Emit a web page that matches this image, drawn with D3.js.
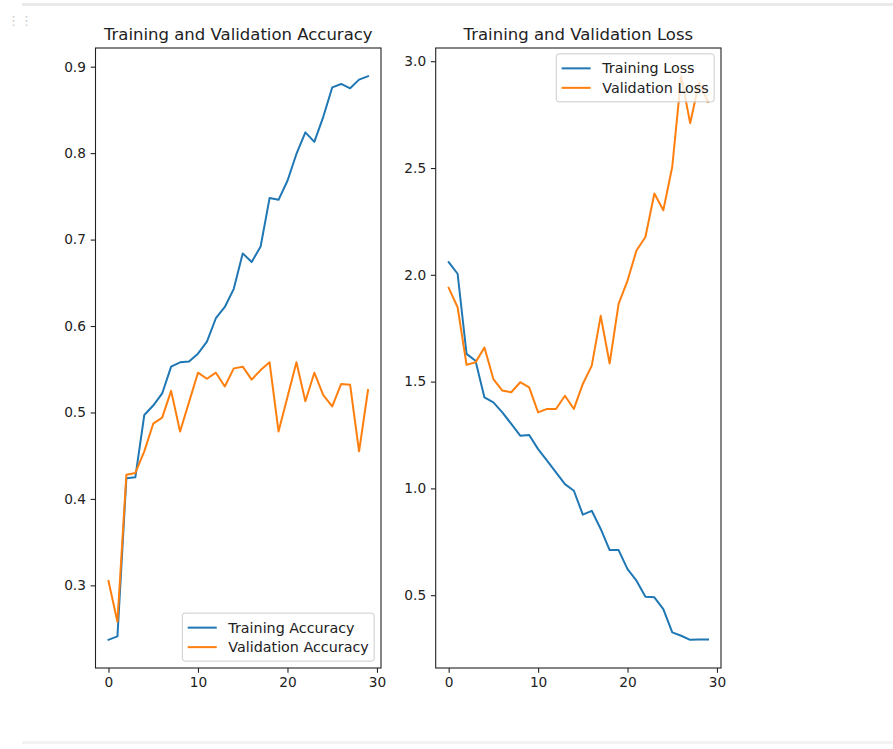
<!DOCTYPE html>
<html>
<head>
<meta charset="utf-8">
<script src="https://cdn.jsdelivr.net/npm/d3@7"></script>
<style>
  html, body { margin: 0; padding: 0; background: #fff; }
  svg { display: block; }
  text { font-family: "DejaVu Sans", sans-serif; }
</style>
</head>
<body>
<svg id="chart" width="893" height="749"></svg>
<script>
// Training history, one value per epoch
const epochs = d3.range(30);
const trainAcc = [0.237,0.241,0.424,0.425,0.497,0.508,0.522,0.553,0.558,0.559,
                  0.568,0.582,0.609,0.622,0.643,0.684,0.674,0.692,0.748,0.746,
                  0.768,0.799,0.824,0.813,0.842,0.876,0.880,0.875,0.885,0.889];
const valAcc   = [0.305,0.258,0.428,0.430,0.455,0.487,0.494,0.525,0.478,0.512,
                  0.546,0.539,0.546,0.530,0.551,0.553,0.538,0.549,0.558,0.478,
                  0.518,0.558,0.513,0.546,0.520,0.507,0.533,0.532,0.455,0.526];
const trainLoss = [2.059,2.005,1.630,1.598,1.426,1.403,1.356,1.302,1.247,1.250,
                   1.184,1.130,1.075,1.020,0.989,0.877,0.895,0.810,0.711,0.711,
                   0.622,0.568,0.493,0.490,0.435,0.326,0.310,0.291,0.293,0.293];
const valLoss   = [1.939,1.848,1.579,1.590,1.660,1.512,1.458,1.450,1.497,1.473,
                   1.356,1.372,1.372,1.434,1.372,1.489,1.575,1.808,1.585,1.864,
                   1.973,2.114,2.177,2.381,2.302,2.506,2.930,2.710,2.900,2.810];

const xTicks = [0, 10, 20, 30];
const accTicks = [0.3, 0.4, 0.5, 0.6, 0.7, 0.8, 0.9];
const lossTicks = [0.5, 1.0, 1.5, 2.0, 2.5, 3.0];

const BLUE = "#1f77b4", ORANGE = "#ff7f0e";
const FS = 13.7;          // tick font size
const LFS = 14.3;         // legend font size
const svg = d3.select("#chart");

// notebook cell frame
svg.append("rect").attr("x", 22).attr("y", 3).attr("width", 871).attr("height", 3)
  .attr("fill", "#eaeaea");
svg.append("rect").attr("x", 22).attr("y", 741).attr("width", 871).attr("height", 3)
  .attr("fill", "#f3f3f3");
svg.append("text").attr("x", 7).attr("y", 25).attr("font-size", 13)
  .attr("fill", "#c8c8c8").text("\u22ee\u22ee");

// padded extent like matplotlib's default 5% margins
function padded(arrs) {
  const all = arrs.flat();
  const [lo, hi] = d3.extent(all);
  const r = hi - lo;
  return [lo - 0.05 * r, hi + 0.05 * r];
}

function panel(opts) {
  const { left, right, top, bottom, series, yTicks, yFmt, title, legend } = opts;
  const g = svg.append("g");
  const x = d3.scaleLinear().domain([-1.45, 30.45]).range([left, right]);
  const y = d3.scaleLinear().domain(padded(series.map(s => s.values))).range([bottom, top]);

  const clipId = "clip" + Math.round(left);
  svg.append("clipPath").attr("id", clipId)
    .append("rect").attr("x", left).attr("y", top)
    .attr("width", right - left).attr("height", bottom - top);

  const line = d3.line().x((d, i) => x(epochs[i])).y(d => y(d));
  const plot = g.append("g").attr("clip-path", `url(#${clipId})`);
  series.forEach(s => {
    plot.append("path").datum(s.values)
      .attr("d", line).attr("fill", "none")
      .attr("stroke", s.color).attr("stroke-width", 2)
      .attr("stroke-linejoin", "round").attr("stroke-linecap", "square");
  });

  // axes
  const xAxis = d3.axisBottom(x).tickValues(xTicks).tickSize(4.8).tickPadding(4.8)
    .tickFormat(d3.format("d"));
  const yAxis = d3.axisLeft(y).tickValues(yTicks).tickSize(4.8).tickPadding(4.8)
    .tickFormat(yFmt);
  const gx = g.append("g").attr("transform", `translate(0,${bottom})`).call(xAxis);
  const gy = g.append("g").attr("transform", `translate(${left},0)`).call(yAxis);
  [gx, gy].forEach(ax => {
    ax.select(".domain").remove();
    ax.selectAll(".tick line").attr("stroke", "#222").attr("stroke-width", 1.1);
    ax.selectAll(".tick text").attr("font-size", FS).attr("fill", "#222")
      .attr("font-family", "DejaVu Sans, sans-serif");
  });

  // frame
  g.append("rect").attr("x", left).attr("y", top)
    .attr("width", right - left).attr("height", bottom - top)
    .attr("fill", "none").attr("stroke", "#222").attr("stroke-width", 1.1);

  g.append("text").attr("x", (left + right) / 2).attr("y", top - 8.5)
    .attr("text-anchor", "middle").attr("font-size", 16.5).attr("fill", "#222")
    .text(title);

  // legend
  const pad = 6.85, bpad = 5.4, handleLen = 29, handleGap = 11.6, rowH = 19.5;
  const lg = g.append("g");
  const lbl = lg.selectAll("text.lbl").data(series).join("text").attr("class", "lbl")
    .attr("font-size", LFS).attr("fill", "#222").text(d => d.name);
  const textW = d3.max(lbl.nodes(), n => n.getComputedTextLength());
  const w = bpad * 2 + handleLen + handleGap + textW;
  const h = 48;
  const lx = right - pad - w;
  const ly = legend === "lower right" ? bottom - pad - h : top + pad - 1;
  lg.insert("rect", "text").attr("x", lx).attr("y", ly).attr("width", w).attr("height", h)
    .attr("rx", 2.7).attr("fill", "#fff").attr("fill-opacity", 0.8)
    .attr("stroke", "#ccc").attr("stroke-width", 1);
  const rowY = i => ly + 14.5 + i * rowH;
  series.forEach((s, i) => {
    lg.append("line").attr("x1", lx + bpad).attr("x2", lx + bpad + handleLen)
      .attr("y1", rowY(i)).attr("y2", rowY(i))
      .attr("stroke", s.color).attr("stroke-width", 2);
  });
  lbl.attr("x", lx + bpad + handleLen + handleGap)
    .attr("y", (d, i) => rowY(i))
    .attr("dy", "0.35em");
}

panel({
  left: 95.5, right: 381, top: 48, bottom: 668,
  series: [
    { name: "Training Accuracy", values: trainAcc, color: BLUE },
    { name: "Validation Accuracy", values: valAcc, color: ORANGE }
  ],
  yTicks: accTicks, yFmt: d3.format(".1f"),
  title: "Training and Validation Accuracy", legend: "lower right"
});

panel({
  left: 435.7, right: 721, top: 48, bottom: 668,
  series: [
    { name: "Training Loss", values: trainLoss, color: BLUE },
    { name: "Validation Loss", values: valLoss, color: ORANGE }
  ],
  yTicks: lossTicks, yFmt: d3.format(".1f"),
  title: "Training and Validation Loss", legend: "upper right"
});
</script>
</body>
</html>
